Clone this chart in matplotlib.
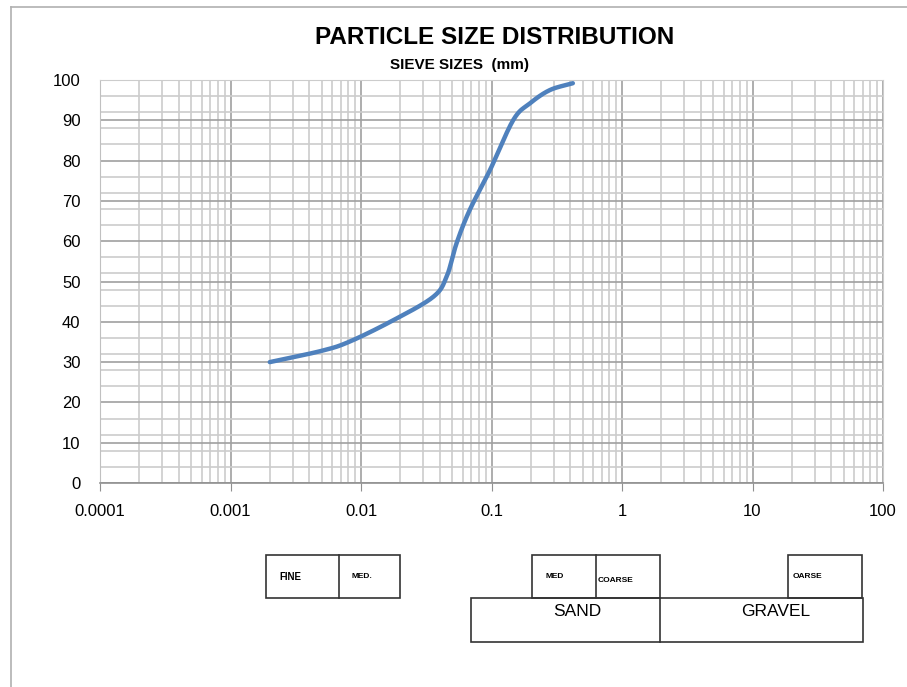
import numpy as np
import matplotlib.pyplot as plt
from matplotlib.ticker import FixedLocator, LogLocator, NullFormatter
from matplotlib.patches import Rectangle
from matplotlib.lines import Line2D

# sieve data (mm, % passing)
razmer = [0.002, 0.005, 0.0082, 0.0177, 0.0358, 0.0453, 0.054, 0.068, 0.0975, 0.147, 0.197, 0.28, 0.42]
otish = [30.0, 32.8, 35.1, 40.4, 46.2, 51.2, 59.5, 67.7, 77.7, 90.1, 94.2, 97.5, 99.2]

x_belgilar = [0.0001, 0.001, 0.01, 0.1, 1, 10, 100]
x_yozuvlar = ["0.0001", "0.001", "0.01", "0.1", "1", "10", "100"]
y_belgilar = list(range(0, 101, 10))

W, H = 907, 687
fig = plt.figure(figsize=(W / 100, H / 100), dpi=100)
ax = fig.add_axes([100 / W, 1 - 483 / H, 783 / W, 403 / H])

# smooth the curve in log space (like excel smoothed line)
lx = np.log10(razmer)
tt = np.linspace(0, len(lx) - 1, 300)


def catmull(p, tt):
    p = np.asarray(p, float)
    pp = np.concatenate([[2 * p[0] - p[1]], p, [2 * p[-1] - p[-2]]])
    out = []
    for v in tt:
        i = min(int(v), len(p) - 2)
        s = v - i
        p0, p1, p2, p3 = pp[i], pp[i + 1], pp[i + 2], pp[i + 3]
        out.append(0.5 * ((2 * p1) + (-p0 + p2) * s + (2 * p0 - 5 * p1 + 4 * p2 - p3) * s ** 2
                          + (-p0 + 3 * p1 - 3 * p2 + p3) * s ** 3))
    return np.array(out)


sx = 10 ** catmull(lx, tt)
sy = catmull(otish, tt)
ax.plot(sx, sy, color="#4f81bd", lw=3.2, solid_capstyle="round", zorder=5)

ax.set_xscale("log")
ax.set_xlim(0.0001, 100)
ax.set_ylim(0, 100)
ax.xaxis.set_major_locator(FixedLocator(x_belgilar))
ax.set_xticklabels(x_yozuvlar)
ax.xaxis.set_minor_locator(LogLocator(base=10, subs=np.arange(2, 10)))
ax.xaxis.set_minor_formatter(NullFormatter())
ax.yaxis.set_major_locator(FixedLocator(y_belgilar))
ax.yaxis.set_minor_locator(FixedLocator([v for v in range(4, 100, 4) if v % 10 != 0]))

ax.grid(which="major", color="#a0a0a0", lw=1.2)
ax.grid(which="minor", color="#cccccc", lw=1.2)
ax.set_axisbelow(True)

for s in ["top", "right"]:
    ax.spines[s].set_color("#cccccc")
ax.spines["left"].set_color("#c0c0c0")
ax.spines["bottom"].set_color("#909090")
ax.spines["bottom"].set_linewidth(1.2)
ax.tick_params(axis="x", which="major", length=6, color="#909090", labelsize=12, pad=9)
ax.tick_params(axis="x", which="minor", length=0)
ax.tick_params(axis="y", which="both", length=0, labelsize=12, pad=14)
for lab in ax.get_xticklabels() + ax.get_yticklabels():
    lab.set_fontfamily(["Liberation Sans", "DejaVu Sans"])

tor = ["Liberation Sans Narrow", "Liberation Sans", "DejaVu Sans"]
fig.text(495 / W, 1 - 37 / H, "PARTICLE SIZE DISTRIBUTION", ha="center", va="center",
         fontsize=17.5, fontweight="bold", family=tor)
fig.text(460 / W, 1 - 65 / H, "SIEVE SIZES  (mm)", ha="center", va="center",
         fontsize=11, fontweight="bold", family=tor)


# boxes below the chart (pixel coords)
def quti(x0, y0, x1, y1):
    fig.patches.append(Rectangle((x0 / W, 1 - y1 / H), (x1 - x0) / W, (y1 - y0) / H,
                                 transform=fig.transFigure, fill=False, ec="#333333", lw=1.2))


def chiziq(x0, y0, x1, y1, **kw):
    fig.lines.append(Line2D([x0 / W, x1 / W], [1 - y0 / H, 1 - y1 / H],
                            transform=fig.transFigure, **kw))


quti(266, 555, 400, 598)
chiziq(339, 555, 339, 598, color="#333333", lw=1.2)
quti(532, 555, 660, 598)
chiziq(596, 555, 596, 598, color="#333333", lw=1.2)
quti(788, 555, 862, 598)
quti(471, 598, 863, 642)
chiziq(660, 598, 660, 642, color="#333333", lw=1.2)


def yoz(x, y, s, size, bold=True, ha="left"):
    fig.text(x / W, 1 - y / H, s, ha=ha, va="center", fontsize=size,
             fontweight="bold" if bold else "normal", family=["Liberation Sans", "DejaVu Sans"])


yoz(279, 577, "FINE", 7)
yoz(352, 576, "MED.", 6)
yoz(546, 576, "MED", 6)
yoz(598, 580, "COARSE", 6)
yoz(793, 576, "OARSE", 6)
yoz(577, 612, "SAND", 12.5, bold=False, ha="center")
yoz(776, 612, "GRAVEL", 12.5, bold=False, ha="center")

# outer border
chiziq(11, 7, 907, 7, color="#b0b0b0", lw=1.2)
chiziq(11, 7, 11, 687, color="#b0b0b0", lw=1.2)

fig.savefig("out.png", dpi=100)
